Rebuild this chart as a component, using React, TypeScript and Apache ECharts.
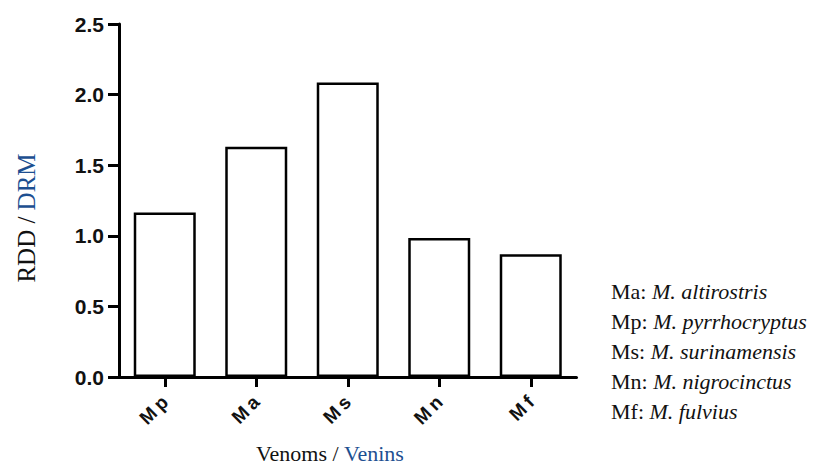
import React, { useEffect, useRef } from "react";
import * as echarts from "echarts";

const categories = ["Mp", "Ma", "Ms", "Mn", "Mf"];
const values = [1.165, 1.63, 2.085, 0.985, 0.87];
const yTicks = { min: 0, max: 2.5, interval: 0.5 };
const legendAbbr = ["Ma", "Mp", "Ms", "Mn", "Mf"];
const legendNames = ["M. altirostris", "M. pyrrhocryptus", "M. surinamensis", "M. nigrocinctus", "M. fulvius"];
const yTitle = ["RDD / ", "DRM"];
const xTitle = ["Venoms / ", "Venins"];

const SERIF = "'Liberation Serif', 'Times New Roman', serif";
const SANS = "'Liberation Sans', Arial, sans-serif";
const BLUE = "#1d4f91";

export default function App() {
  const ref = useRef<HTMLDivElement>(null);
  useEffect(() => {
    const chart = echarts.init(ref.current!, null, { renderer: "svg" });
    const legendGraphics = legendAbbr.map((a, i) => ({
      type: "text",
      left: 611,
      top: 280 + i * 30,
      style: {
        text: `{r|${a}: }{i|${legendNames[i]}}`,
        rich: {
          r: { fontFamily: SERIF, fontSize: 22, fill: "#111", fontStyle: "normal" },
          i: { fontFamily: SERIF, fontSize: 22, fill: "#111", fontStyle: "italic" },
        },
      },
    }));
    chart.setOption({
      animation: false,
      backgroundColor: "#ffffff",
      grid: { left: 119, right: 245.5, top: 24, bottom: 88, containLabel: false },
      xAxis: {
        type: "category",
        data: categories,
        axisLine: { show: true, lineStyle: { color: "#000", width: 3 } },
        axisTick: { show: true, alignWithLabel: true, length: 10, lineStyle: { color: "#000", width: 3 } },
        axisLabel: {
          rotate: 45,
          margin: 22,
          fontFamily: SANS,
          fontWeight: "bold",
          fontSize: 19,
          color: "#111",
          formatter: (v: string) => v.split("").join("\u2009"),
        },
        splitLine: { show: false },
      },
      yAxis: {
        type: "value",
        min: yTicks.min,
        max: yTicks.max,
        interval: yTicks.interval,
        axisLine: { show: true, lineStyle: { color: "#000", width: 3 } },
        axisTick: { show: true, length: 11, lineStyle: { color: "#000", width: 3 } },
        axisLabel: {
          margin: 15,
          fontFamily: SANS,
          fontWeight: "bold",
          fontSize: 21,
          color: "#111",
          formatter: (v: number) => v.toFixed(1),
        },
        splitLine: { show: false },
      },
      series: [
        {
          type: "bar",
          data: values,
          barWidth: 62,
          itemStyle: { color: "#ffffff", borderColor: "#000", borderWidth: 2.5 },
        },
      ],
      graphic: [
        {
          type: "text",
          x: 26,
          y: 218,
          rotation: Math.PI / 2,
          style: {
            text: `{a|${yTitle[0]}}{b|${yTitle[1]}}`,
            align: "center",
            verticalAlign: "middle",
            rich: {
              a: { fontFamily: SERIF, fontSize: 25, fill: "#111" },
              b: { fontFamily: SERIF, fontSize: 25, fill: BLUE },
            },
          },
        },
        {
          type: "text",
          x: 330,
          y: 453,
          style: {
            text: `{a|${xTitle[0]}}{b|${xTitle[1]}}`,
            align: "center",
            verticalAlign: "middle",
            rich: {
              a: { fontFamily: SERIF, fontSize: 22, fill: "#111" },
              b: { fontFamily: SERIF, fontSize: 22, fill: BLUE },
            },
          },
        },
        ...legendGraphics,
      ],
    });
    return () => chart.dispose();
  }, []);
  return (
    <div
      ref={ref}
      style={{ position: "absolute", left: 0, top: 0, width: 822, height: 465, background: "#fff" }}
    />
  );
}
